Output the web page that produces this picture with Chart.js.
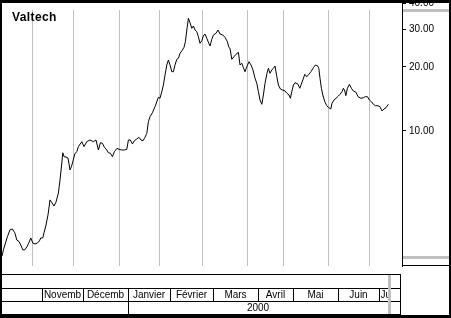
<!DOCTYPE html>
<html><head><meta charset="utf-8">
<script src="https://cdn.jsdelivr.net/npm/chart.js@4/dist/chart.umd.min.js"></script>
<style>html,body{margin:0;padding:0;background:#fff;}canvas{display:block;}</style>
</head><body>
<canvas id="c" width="451" height="318"></canvas>
<script>
// ---- data ----
const title = 'Valtech';
// trading-session index (x axis) and closing price (log y axis)
const sessions = [0,0.7,2.7,4,5.2,6.4,7.4,8.5,9.4,10.4,11.4,12.4,13.4,14.4,15.4,16.5,17.7,18.7,19.4,20.4,
  21,22,23,24,25,26,27,28.2,29,29.9,30.4,31,32,33,34,34.7,35.4,36.4,37.4,38.2,39.9,41,42.4,44,45.7,47,
  48.2,49.2,50.2,51.2,52.4,53.2,54.2,55.2,56.2,57.5,58.5,59.9,61.2,62.4,63.2,64.2,65.2,66.2,67.4,68.5,
  69.5,70.5,71.5,72.4,73.2,74,75.2,76.5,78.2,79,79.9,80.7,81.5,82.4,83.2,84,84.9,85.7,86.5,87.4,88.2,
  89,90,91,91.7,92.4,93.2,94,94.9,95.7,96.5,97.4,98.2,99,99.9,100.7,101.5,102.4,103.4,104,104.9,105.7,
  107,108,109,110.4,111.5,112.7,113.4,114,114.9,116,117,118.2,119,119.9,120.7,121.5,122.4,123.5,124.5,
  125.5,126.5,127.4,128.2,129,129.9,130.7,131.5,132.5,133.2,134,134.9,135.7,136.5,137.4,138.2,139.2,
  140.2,141.5,142.5,143.5,144.2,144.9,145.7,146.5,147.9,148.9,150.4,151.4,152.4,153.4,154.5,155.7,
  156.7,157.7,158.4,159,159.7,160.4,161.4,162.4,163.4,164.4,165,166,167,168.2,169,170,170.7,171.4,
  171.9,172.7,173.7,174.7,175.7,177,178,179.4,180.7,181.7,182.7,183.7,184.7,185.7,186.7,188,189,190,
  191,192,193.2];
const closes = [2.58,2.76,3.18,3.43,3.46,3.32,3.07,3.02,2.91,2.76,2.76,2.85,2.97,3.14,2.97,2.94,2.97,3.04,3.14,3.14,
  3.32,3.61,4.03,4.74,4.59,4.44,4.63,5.11,5.88,7.07,7.90,7.57,7.54,7.46,6.56,6.79,7.17,7.80,8.00,8.44,8.91,8.44,8.91,9.07,8.91,9.07,
  8.14,8.81,8.75,8.38,8.14,7.90,7.86,7.57,7.99,8.29,8.20,8.14,8.14,8.20,9.07,9.07,8.69,9.00,9.17,9.34,
  9.07,9.00,9.34,9.75,11.06,11.67,12.19,13.01,14.40,14.25,15.30,16.46,18.34,20.44,21.57,20.44,19.01,19.01,20.44,21.74,21.98,
  23.20,23.86,24.76,26.30,29.86,33.89,32.31,30.41,31.18,29.86,29.31,27.77,25.85,26.59,27.98,28.59,27.29,25.85,25.11,27.00,28.28,
  28.81,29.86,28.59,28.28,27.59,26.30,24.76,24.49,21.74,22.36,22.95,23.45,20.44,20.82,19.85,19.01,20.06,21.18,20.44,
  19.36,17.70,16.76,15.30,13.99,13.35,14.77,16.76,18.68,19.72,18.68,19.36,19.72,20.22,18.00,16.46,15.76,
  15.59,15.42,15.04,14.77,14.25,15.30,16.46,16.87,16.64,15.88,17.37,18.48,18.00,18.48,19.01,19.85,
  20.44,20.29,19.72,17.70,15.88,14.77,13.73,13.15,12.87,12.69,13.50,13.99,14.25,14.61,14.88,15.30,15.88,15.42,
  14.66,15.88,16.58,15.88,15.42,15.21,14.50,14.25,14.34,14.50,14.50,13.99,13.73,13.35,13.15,13.15,13.01,12.42,
  12.69,12.87,13.35];
const yTicks = [10, 20, 30, 40];
const yMin = 2.317, yMax = 40;
const sessionMin = 0, sessionMax = 200;
const bandHigh = 37.1, bandLow = 2.55;            // grey marks on the price panel
const gridSessions = [15, 35.5, 58.5, 78.5, 100, 122.5, 140.5, 163, 183.5];   // month grid lines
const tableSessions = [20, 40.5, 63, 84, 105.5, 128, 145.5, 168, 188.5, 193]; // calendar cells
const months = ['Novemb', 'Décemb', 'Janvier', 'Février', 'Mars', 'Avril', 'Mai', 'Juin', 'Ju'];
const yearLabel = '2000';
const yearStartIndex = 2;

const FONT = '"Liberation Sans", Arial, sans-serif';

const points = sessions.map((s, i) => ({x: s, y: closes[i]}));

const decor = {
  id: 'decor',
  beforeDatasetsDraw(chart) {
    const {ctx, chartArea: a, scales: {x, y}} = chart;
    ctx.save();
    ctx.strokeStyle = '#c0c0c0';
    ctx.lineWidth = 1;
    const top = Math.round(y.getPixelForValue(bandHigh));
    gridSessions.forEach(d => {
      const px = Math.round(x.getPixelForValue(d)) + 0.5;
      ctx.beginPath(); ctx.moveTo(px, top); ctx.lineTo(px, a.bottom); ctx.stroke();
    });
    ctx.restore();
  },
  afterDraw(chart) {
    const {ctx, chartArea: a, scales: {x, y}} = chart;
    const W = chart.width, H = chart.height;
    ctx.save();
    // grey band marks on the right price panel
    ctx.fillStyle = '#c0c0c0';
    [bandHigh, bandLow].forEach(v => {
      const py = Math.round(y.getPixelForValue(v));
      ctx.fillRect(a.right + 1, py - 1, W - 2 - (a.right + 1), 3);
    });
    // right panel bottom line
    ctx.fillStyle = '#000';
    ctx.fillRect(a.right, a.bottom - 1, W - a.right, 1);

    // title
    ctx.font = 'bold 12px ' + FONT;
    if ('letterSpacing' in ctx) ctx.letterSpacing = '0.4px';
    ctx.textAlign = 'left';
    ctx.textBaseline = 'alphabetic';
    ctx.fillStyle = '#000';
    ctx.fillText(title, 12, 21);
    if ('letterSpacing' in ctx) ctx.letterSpacing = '0px';

    // calendar table
    const L = 2, R = 400;
    const t0 = a.bottom + 8, r1 = t0 + 14, r2 = r1 + 13, r3 = r2 + 13;
    ctx.fillStyle = '#000';
    ctx.fillRect(L, t0, R - L + 1, 1);
    ctx.fillRect(L, r1, R - L + 1, 1);
    ctx.fillRect(L, r2, R - L + 1, 1);
    ctx.fillRect(L, r3, R - L + 1, 1);
    ctx.fillRect(R, t0, 1, r3 - t0 + 1);
    const px = d => Math.round(x.getPixelForValue(d));
    for (let i = 0; i < tableSessions.length - 1; i++) {
      ctx.fillRect(px(tableSessions[i]), r1, 1, r2 - r1);
    }
    ctx.fillRect(px(tableSessions[yearStartIndex]), r2, 1, r3 - r2);
    ctx.font = '10px ' + FONT;
    ctx.textBaseline = 'middle';
    months.forEach((m, i) => {
      const x0 = px(tableSessions[i]), x1 = px(tableSessions[i + 1]);
      const w = ctx.measureText(m).width;
      ctx.save();
      ctx.beginPath(); ctx.rect(x0 + 1, r1 + 1, x1 - x0 - 1, r2 - r1 - 1); ctx.clip();
      if (w > x1 - x0 - 2) { ctx.textAlign = 'left'; ctx.fillText(m, x0 + 1.5, (r1 + r2) / 2 + 1); }
      else { ctx.textAlign = 'center'; ctx.fillText(m, (x0 + x1) / 2, (r1 + r2) / 2 + 1); }
      ctx.restore();
    });
    ctx.textAlign = 'center';
    const yx0 = px(tableSessions[yearStartIndex]), yx1 = px(tableSessions[tableSessions.length - 1]);
    ctx.fillText(yearLabel, (yx0 + yx1) / 2, (r2 + r3) / 2 + 1);
    // grey end-of-range bar in the table
    ctx.fillStyle = '#c0c0c0';
    ctx.fillRect(yx1, t0 + 1, 3, r3 - t0 - 1);

    // outer frame
    ctx.fillStyle = '#000';
    ctx.fillRect(0, 0, W, 3);
    ctx.fillRect(0, 0, 2, H);
    ctx.fillRect(W - 2, 0, 2, H);
    ctx.fillRect(0, H - 3, W, 3);
    ctx.restore();
  }
};

new Chart(document.getElementById('c'), {
  type: 'line',
  data: {
    datasets: [{
      data: points,
      borderColor: '#000',
      borderWidth: 1,
      pointRadius: 0,
      tension: 0,
      fill: false
    }]
  },
  options: {
    responsive: false,
    devicePixelRatio: 1,
    animation: false,
    events: [],
    layout: {padding: {left: 2, top: 3, right: 3, bottom: 52}},
    plugins: {legend: {display: false}, tooltip: {enabled: false}, title: {display: false}},
    scales: {
      x: {type: 'linear', min: sessionMin, max: sessionMax, display: false},
      y: {
        type: 'logarithmic',
        position: 'right',
        min: yMin, max: yMax,
        afterBuildTicks: s => { s.ticks = yTicks.map(v => ({value: v})); },
        afterFit: s => { s.width = 46; s.paddingTop = 0; s.paddingBottom = 0; },
        grid: {drawOnChartArea: false, drawTicks: true, tickLength: 4, color: '#000'},
        border: {display: true, color: '#000', width: 1},
        ticks: {
          autoSkip: false,
          padding: 3,
          color: '#000',
          font: {family: FONT, size: 10},
          callback: v => Number(v).toFixed(2)
        }
      }
    }
  },
  plugins: [decor]
});
</script>
</body></html>
